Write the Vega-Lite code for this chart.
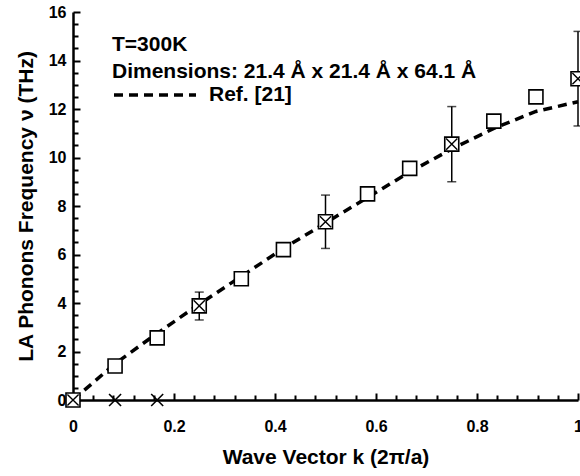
{
  "$schema": "https://vega.github.io/schema/vega-lite/v6.json",
  "autosize": {"type": "none"},
  "width": 505,
  "height": 388,
  "padding": {"left": 73, "top": 12, "right": 2, "bottom": 76},
  "background": "white",
  "config": {
    "font": "Liberation Sans",
    "view": {"stroke": null},
    "axis": {
      "domainColor": "black", "domainWidth": 2.5, "ticks": false,
      "labelColor": "black", "labelFont": "Liberation Sans", "labelFontWeight": "bold", "labelFontSize": 16,
      "titleColor": "black", "titleFont": "Liberation Sans", "titleFontWeight": "bold", "titleFontSize": 21,
      "grid": true, "gridColor": "black", "gridWidth": 2, "gridOpacity": 1, "gridCap": "butt"
    }
  },
  "datasets": {
    "pts": [
      {"k": 0, "v": 0, "kind": "crossed"},
      {"k": 0.0833, "v": 1.4, "kind": "square"},
      {"k": 0.1667, "v": 2.56, "kind": "square"},
      {"k": 0.25, "v": 3.88, "kind": "crossed", "lo": 3.3, "hi": 4.45},
      {"k": 0.3333, "v": 5.0, "kind": "square"},
      {"k": 0.4167, "v": 6.2, "kind": "square"},
      {"k": 0.5, "v": 7.35, "kind": "crossed", "lo": 6.25, "hi": 8.45},
      {"k": 0.5833, "v": 8.5, "kind": "square"},
      {"k": 0.6667, "v": 9.55, "kind": "square"},
      {"k": 0.75, "v": 10.55, "kind": "crossed", "lo": 9.0, "hi": 12.1},
      {"k": 0.8333, "v": 11.5, "kind": "square"},
      {"k": 0.9167, "v": 12.5, "kind": "square"},
      {"k": 1.0, "v": 13.25, "kind": "crossed", "lo": 11.3, "hi": 15.2},
      {"k": 0.0833, "v": 0, "kind": "x"},
      {"k": 0.1667, "v": 0, "kind": "x"}
    ],
    "ref": [
      {"k": 0.0, "v": 0.0, "series": "Ref. [21]"},
      {"k": 0.0833, "v": 1.5, "series": "Ref. [21]"},
      {"k": 0.1667, "v": 2.75, "series": "Ref. [21]"},
      {"k": 0.25, "v": 3.95, "series": "Ref. [21]"},
      {"k": 0.3333, "v": 5.1, "series": "Ref. [21]"},
      {"k": 0.4167, "v": 6.25, "series": "Ref. [21]"},
      {"k": 0.5, "v": 7.3, "series": "Ref. [21]"},
      {"k": 0.5833, "v": 8.35, "series": "Ref. [21]"},
      {"k": 0.6667, "v": 9.4, "series": "Ref. [21]"},
      {"k": 0.75, "v": 10.35, "series": "Ref. [21]"},
      {"k": 0.8333, "v": 11.2, "series": "Ref. [21]"},
      {"k": 0.9167, "v": 11.9, "series": "Ref. [21]"},
      {"k": 1.0, "v": 12.3, "series": "Ref. [21]"}
    ]
  },
  "encoding": {
    "x": {
      "field": "k", "type": "quantitative",
      "scale": {"domain": [0, 1], "nice": false, "zero": false},
      "axis": {
        "title": "Wave Vector k (2π/a)", "titlePadding": 12,
        "values": [0,0.04,0.08,0.12,0.16,0.2,0.24,0.28,0.32,0.36,0.4,0.44,0.48,0.52,0.56,0.6,0.64,0.68,0.72,0.76,0.8,0.84,0.88,0.92,0.96,1],
        "format": "~g",
        "labelExpr": "abs(datum.value*5 - round(datum.value*5)) < 1e-6 ? datum.label : ''",
        "gridDash": {"condition": {"test": "abs(datum.value*5 - round(datum.value*5)) < 1e-6", "value": [0, 381, 7, 2000]}, "value": [0, 383, 5, 2000]},
        "labelPadding": 18, "labelFlush": false, "labelOverlap": false
      }
    },
    "y": {
      "field": "v", "type": "quantitative",
      "scale": {"domain": [0, 16], "nice": false},
      "axis": {
        "title": "LA Phonons Frequency ν (THz)", "titlePadding": 12,
        "values": [0,0.5,1,1.5,2,2.5,3,3.5,4,4.5,5,5.5,6,6.5,7,7.5,8,8.5,9,9.5,10,10.5,11,11.5,12,12.5,13,13.5,14,14.5,15,15.5,16],
        "format": "~g",
        "labelExpr": "datum.value % 2 === 0 ? datum.label : ''",
        "gridDash": {"condition": {"test": "datum.value % 2 === 0", "value": [7, 2000]}, "value": [5, 2000]},
        "labelPadding": 7, "labelOverlap": false
      }
    }
  },
  "layer": [
    {
      "data": {"name": "ref"},
      "mark": {"type": "line", "color": "black", "strokeWidth": 3.5, "strokeCap": "butt"},
      "encoding": {
        "strokeDash": {
          "field": "series", "type": "nominal",
          "scale": {"domain": ["Ref. [21]"], "range": [[9, 6]]},
          "legend": {
            "orient": "none", "legendX": 39, "legendY": 22,
            "title": ["T=300K", "Dimensions: 21.4 Å x 21.4 Å x 64.1 Å"],
            "titleFontSize": 21, "titleFontWeight": "bold", "titleColor": "black", "titleLineHeight": 27,
            "titleLimit": 600, "titlePadding": -30, "padding": 0,
            "symbolType": "stroke", "symbolSize": 6724, "symbolStrokeWidth": 3.5, "symbolDash": [13, 5],
            "symbolStrokeColor": "black",
            "labelFontSize": 21, "labelFontWeight": "bold", "labelColor": "black", "labelOffset": 11
          }
        }
      }
    },
    {
      "data": {"name": "pts"},
      "transform": [{"filter": "isValid(datum.lo)"}],
      "mark": {"type": "errorbar", "ticks": {"size": 9, "thickness": 1.5, "color": "black"}, "rule": {"strokeWidth": 1.5, "color": "black"}},
      "encoding": {
        "y": {"field": "lo", "type": "quantitative"},
        "y2": {"field": "hi"}
      }
    },
    {
      "data": {"name": "pts"},
      "transform": [{"filter": "datum.kind !== 'x'"}],
      "mark": {"type": "point", "shape": "square", "size": 196, "filled": true, "fill": "white", "stroke": "black", "strokeWidth": 1.6, "opacity": 1}
    },
    {
      "data": {"name": "pts"},
      "transform": [{"filter": "datum.kind === 'crossed'"}],
      "mark": {"type": "point", "shape": "M-0.8,-0.8L0.8,0.8M0.8,-0.8L-0.8,0.8", "size": 196, "filled": false, "stroke": "black", "strokeWidth": 1.4, "opacity": 1}
    },
    {
      "data": {"name": "pts"},
      "transform": [{"filter": "datum.kind === 'x'"}],
      "mark": {"type": "point", "shape": "M-1,-1L1,1M1,-1L-1,1", "size": 144, "filled": false, "stroke": "black", "strokeWidth": 1.6, "opacity": 1}
    }
  ]
}
